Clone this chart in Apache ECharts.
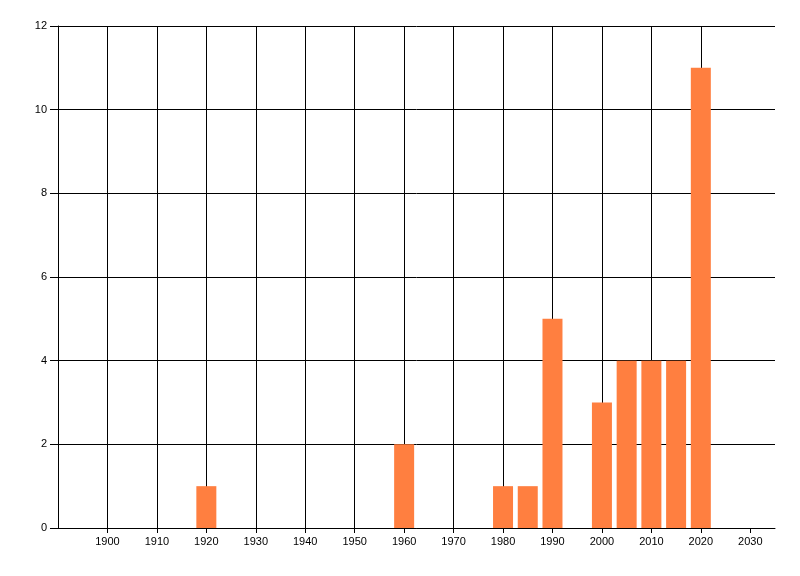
<!DOCTYPE html>
<html><head><meta charset="utf-8">
<script src="https://cdn.jsdelivr.net/npm/echarts@6/dist/echarts.min.js"></script>
<style>html,body{margin:0;padding:0;background:#fff}#c{width:800px;height:576px}</style>
</head><body><div id="c"></div>
<script>
const years = [1920, 1960, 1980, 1985, 1990, 2000, 2005, 2010, 2015, 2020];
const counts = [1, 2, 1, 1, 5, 3, 4, 4, 4, 11];
const xTicks = [1900, 1910, 1920, 1930, 1940, 1950, 1960, 1970, 1980, 1990, 2000, 2010, 2020, 2030];
const xMin = 1890, xMax = 2035, xStep = 10;
const yMin = 0, yMax = 12, yStep = 2;

const chart = echarts.init(document.getElementById('c'), null, {renderer:'canvas'});
const font = {fontFamily:'Liberation Sans, Arial, sans-serif', fontSize:11, color:'#000'};
chart.setOption({
  animation:false,
  backgroundColor:'#fff',
  grid:{left:58, right:25, top:26, bottom:48, containLabel:false},
  xAxis:{
    type:'value', min:xMin, max:xMax, interval:xStep,
    axisLine:{show:true, onZero:false, lineStyle:{color:'#000', width:1}},
    axisTick:{show:true, length:5, customValues:xTicks, lineStyle:{color:'#000'}},
    splitLine:{show:true, showMinLine:true, showMaxLine:false, lineStyle:{color:'#000', width:1}},
    axisLabel:{...font, margin:8, customValues:xTicks, formatter:v => String(Math.round(v))}
  },
  yAxis:{
    type:'value', min:yMin, max:yMax, interval:yStep,
    axisLine:{show:true, lineStyle:{color:'#000', width:1}},
    axisTick:{show:true, length:8, lineStyle:{color:'#000'}},
    splitLine:{show:true, lineStyle:{color:'#000', width:1}},
    axisLabel:{...font, margin:11}
  },
  series:[{
    type:'bar',
    data:years.map((y,i)=>[y, counts[i]]),
    barWidth:20,
    itemStyle:{color:'#ff7f40'},
    z:3
  }]
});
</script></body></html>
